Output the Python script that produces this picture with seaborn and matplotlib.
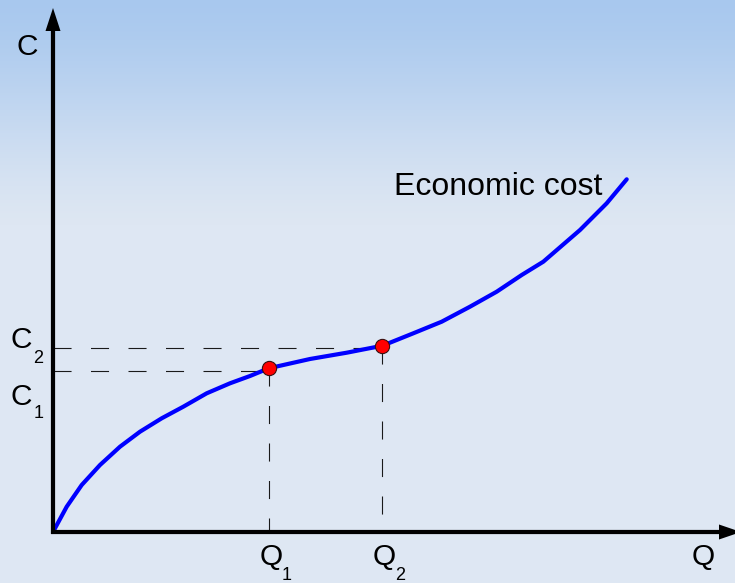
import numpy as np
import matplotlib
matplotlib.use("Agg")
import matplotlib.pyplot as plt
import seaborn as sns

# ---- data (Q, C) ----
q_curve = [0, 13.7, 28.7, 47, 67, 87, 108.7, 130.3, 153.7, 177, 197, 215.7,
           257, 293.7, 329.5, 360.3, 388.7, 417, 443.7, 468.7, 490.3, 527,
           553.7, 573.7]
c_curve = [0, 25.3, 47, 67, 85.3, 100.3, 113.7, 125.3, 138.7, 148.7, 156, 163.7,
           173, 179.3, 186.3, 198.7, 210.3, 225.3, 240.3, 257, 270.3, 302,
           328.7, 352.7]
q_points = [215.7, 329.5]
c_points = [163.7, 186.3]
c_levels = [161.3, 183.7]
q_labels = ["1", "2"]
c_labels = ["1", "2"]
curve_label = "Economic cost"

sns.set_theme(style="white")
plt.rcParams["font.family"] = ["Liberation Sans", "DejaVu Sans"]
plt.rcParams["text.color"] = "black"
plt.rcParams["lines.scale_dashes"] = False

fig = plt.figure(figsize=(7.35, 5.83), dpi=100)
ax = fig.add_axes([0, 0, 1, 1])
X0, X1, Y0, Y1 = -53, 682, -51, 532

# background gradient
h = 583
top = np.array([168, 200, 238]) / 255
bot = np.array([222, 231, 243]) / 255
t = np.clip(np.arange(h) / 225.0, 0, 1)
t = t * t * (3 - 2 * t) * 0.5 + t * 0.5
grad = top[None, :] * (1 - t[:, None]) + bot[None, :] * t[:, None]
img = np.repeat(grad[:, None, :], 8, axis=1)
ax.imshow(img, extent=(X0, X1, Y0, Y1), aspect="auto",
          origin="upper", zorder=0, interpolation="nearest")

# dashed guide lines
dash = (0, (13, 14))
for q, c, lv in zip(q_points, c_points, c_levels):
    ax.plot([0, q], [lv, lv], color="#1a1a1a", lw=0.8, linestyle=dash, zorder=2)
    ax.plot([q, q], [c, 0], color="#1a1a1a", lw=0.8, linestyle=dash, zorder=2)

# curve and points
sns.lineplot(x=q_curve, y=c_curve, color="#0000FF", linewidth=3, sort=False,
             ax=ax, zorder=3)
sns.scatterplot(x=q_points, y=c_points, s=105, color="#FF0000",
                edgecolor="#3a1010", linewidth=0.8, ax=ax, zorder=4)

# axes arrows
ax.arrow(-2, 0, 690, 0, width=4.2, head_width=15, head_length=22,
         length_includes_head=True, fc="black", ec="none", zorder=5)
ax.arrow(0, -2, 0, 526, width=4.2, head_width=15, head_length=23,
         length_includes_head=True, fc="black", ec="none", zorder=5)

# labels
fs, fsub = 21.5, 13
ax.text(-26, 532 - 55, "C", fontsize=fs, ha="center", va="baseline")
ax.text(650, 532 - 565, "Q", fontsize=fs, ha="center", va="baseline")
ax.text(394 - 53, 532 - 195, curve_label, fontsize=23, ha="left", va="baseline")

c_label_base = [405, 348]
c_sub_base = [418, 363]
for lab, yb, ys in zip(c_labels, c_label_base, c_sub_base):
    ax.text(21 - 53, 532 - yb, "C", fontsize=fs, ha="center", va="baseline")
    ax.text(38.5 - 53, 532 - ys, lab, fontsize=fsub, ha="center", va="baseline")

for q, lab in zip(q_points, q_labels):
    ax.text(q + 2, 532 - 565, "Q", fontsize=fs, ha="center", va="baseline")
    ax.text(q + 17.5, 532 - 580, lab, fontsize=fsub, ha="center", va="baseline")

ax.set_xlim(X0, X1)
ax.set_ylim(Y0, Y1)
ax.axis("off")
fig.savefig("out.png", dpi=100)
